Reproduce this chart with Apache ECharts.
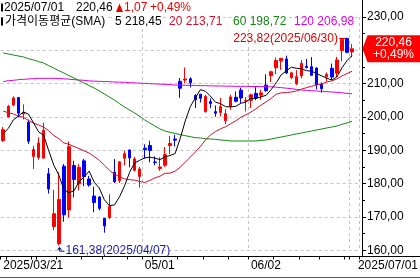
<!DOCTYPE html>
<html><head><meta charset="utf-8">
<script src="https://cdn.jsdelivr.net/npm/echarts@6/dist/echarts.min.js"></script>
<style>html,body{margin:0;padding:0;background:#fff;overflow:hidden}#c{width:420px;height:279px}</style>
</head><body><div id="c"></div>
<script>
// ---------- data ----------
const dates = [
'2025/03/21','2025/03/24','2025/03/25','2025/03/26','2025/03/27','2025/03/28','2025/03/31',
'2025/04/01','2025/04/02','2025/04/03','2025/04/04','2025/04/07','2025/04/08','2025/04/09','2025/04/10','2025/04/11',
'2025/04/14','2025/04/15','2025/04/16','2025/04/17','2025/04/21','2025/04/22','2025/04/23','2025/04/24','2025/04/25',
'2025/04/28','2025/04/29','2025/04/30',
'2025/05/01','2025/05/02','2025/05/05','2025/05/06','2025/05/07','2025/05/08','2025/05/09','2025/05/12','2025/05/13',
'2025/05/14','2025/05/15','2025/05/16','2025/05/19','2025/05/20','2025/05/21','2025/05/22','2025/05/23','2025/05/27',
'2025/05/28','2025/05/29','2025/05/30',
'2025/06/02','2025/06/03','2025/06/04','2025/06/05','2025/06/06','2025/06/09','2025/06/10','2025/06/11','2025/06/12',
'2025/06/13','2025/06/16','2025/06/17','2025/06/18','2025/06/20','2025/06/23','2025/06/24','2025/06/25','2025/06/26',
'2025/06/27','2025/06/30','2025/07/01'];
const opens = [192.90,200.00,203.60,205.84,200.89,198.42,188.19,187.86,187.66,183.00,167.15,162.00,185.23,172.12,185.44,179.93,
186.84,181.41,176.29,176.00,169.60,169.85,183.45,180.92,187.62,190.11,183.99,182.17,190.63,191.44,186.51,184.57,185.56,191.43,
193.38,210.71,211.08,211.45,206.45,206.85,201.65,204.63,201.61,201.38,198.90,203.09,205.92,208.03,204.84,204.98,207.11,206.55,
209.55,212.40,214.75,216.78,217.41,211.78,209.96,212.31,215.19,215.09,214.68,209.79,212.14,214.62,213.12,219.92,223.52,219.50];
const closes = [196.21,203.26,205.71,201.13,201.36,192.72,190.26,192.17,196.01,178.41,171.00,175.26,170.66,191.10,181.22,184.87,
182.12,179.59,174.33,172.61,167.32,173.18,180.60,186.54,188.99,187.70,187.39,184.42,190.20,189.98,186.35,185.01,188.71,192.08,
193.06,208.64,211.37,210.25,205.17,205.59,206.16,204.07,201.12,203.10,200.99,206.02,204.72,205.70,205.01,206.65,205.71,207.23,
207.91,213.57,216.98,217.61,213.20,213.24,212.10,216.10,214.82,212.52,209.69,208.47,212.77,211.99,217.12,223.30,219.39,220.46];
const lows = [192.52,199.95,203.22,199.93,199.28,191.88,184.40,187.20,187.66,177.00,166.00,161.38,168.57,169.93,175.85,178.00,
179.23,179.10,171.41,172.00,165.29,169.35,180.19,180.18,185.49,184.89,183.68,178.85,187.50,186.40,185.53,183.85,185.01,188.82,
191.16,205.75,210.10,208.85,202.67,204.37,201.26,202.65,200.06,200.16,197.85,202.19,204.41,204.23,201.70,202.68,205.03,205.18,
207.56,210.50,212.88,214.15,212.89,211.33,209.62,211.60,214.56,212.34,208.27,207.31,210.63,211.11,212.01,216.74,219.12,217.93];
const highs = [196.99,203.64,206.21,206.01,203.79,199.26,191.33,193.93,198.34,184.70,178.14,183.41,185.90,192.65,186.87,185.86,
187.44,182.35,179.10,176.21,169.60,176.78,187.38,186.74,189.94,190.22,188.02,185.05,191.81,192.88,188.18,187.93,190.99,194.33,
194.69,211.66,214.84,211.93,206.88,206.85,206.62,205.59,203.46,205.76,202.37,206.69,207.66,208.81,205.99,207.00,208.95,208.18,
212.81,213.87,217.85,217.69,218.40,213.58,214.05,217.06,217.41,217.96,214.89,210.39,213.34,216.03,218.04,223.30,223.82,221.88];
const ma5 = [195.05,196.56,199.13,200.25,201.53,200.84,198.24,195.53,194.50,189.91,185.57,182.57,178.27,177.29,177.85,180.62,
181.99,183.78,180.43,178.70,175.19,173.41,173.61,176.05,179.33,183.40,186.24,187.01,187.74,187.94,187.67,187.19,188.05,188.43,
189.04,193.50,198.77,203.08,205.70,208.20,207.71,206.25,204.42,204.01,203.09,203.06,203.19,204.11,204.49,205.62,205.56,206.06,
206.50,208.21,210.28,212.66,213.85,214.92,214.63,214.45,213.89,213.76,213.05,212.32,211.65,211.09,212.01,214.73,216.91,218.45];
const ma20 = [201.76,201.28,200.93,200.27,199.90,198.92,198.18,197.60,196.98,195.87,194.46,193.49,192.20,191.81,191.17,190.52,
189.84,189.18,188.12,187.00,185.56,184.05,182.80,182.07,181.45,181.20,181.05,180.67,180.38,180.95,181.72,182.21,183.11,183.16,
183.75,184.94,186.40,187.94,189.48,191.13,193.07,194.61,195.64,196.47,197.07,197.98,198.85,199.91,200.66,201.49,202.46,203.57,
204.53,205.60,206.80,207.25,207.34,207.49,207.83,208.36,208.79,209.22,209.64,209.91,210.50,210.80,211.42,212.30,213.02,213.71];
const ma60 = [219.2,218.9,218.6,218.3,218.0,217.5,217.1,216.6,216.2,215.4,214.7,213.9,213.2,212.4,211.7,210.9,
210.2,209.4,208.7,207.8,206.9,206.0,205.1,204.0,203.0,202.1,201.2,200.2,199.1,198.2,197.3,196.4,195.8,195.4,
195.1,194.7,194.4,194.1,193.8,193.7,193.5,193.4,193.3,193.1,193.0,192.8,192.8,192.8,192.8,192.8,192.8,193.0,
193.1,193.4,193.7,194.0,194.3,194.6,194.9,195.2,195.5,195.8,196.1,196.4,196.7,197.0,197.3,197.8,198.2,198.72];
const ma120 = [210.6,210.9,211.0,211.2,211.3,211.4,211.5,211.6,211.6,211.6,211.6,211.55,211.45,211.35,211.2,211.1,
211.0,210.85,210.75,210.7,210.65,210.6,210.5,210.45,210.4,210.3,210.25,210.15,210.1,210.0,209.95,209.85,209.8,209.7,
209.6,209.55,209.5,209.5,209.45,209.4,209.4,209.35,209.3,209.3,209.25,209.25,209.2,209.2,209.2,209.15,209.15,209.1,
209.1,209.05,208.95,208.8,208.65,208.5,208.3,208.1,208.0,207.9,207.8,207.7,207.6,207.5,207.4,207.25,207.1,206.98];
const maPeriods = ['5','20','60','120'];
const titleText = '가격이동평균(SMA)';
const yMin = 160, yMax = 230, yStep = 10;
const xLabelDates = ['2025/03/21','2025/05/01','2025/06/02'];
const xLabelTexts = ['2025/03/21','05/01','06/02'];
const gridLineDates = ['2025/05/01','2025/06/02','2025/07/01'];
const cornerLabel = '2025/07/01';

// ---------- chart ----------
const FONT = "'Liberation Sans','Noto Sans CJK KR',sans-serif";
const fmt = v => v.toFixed(2).replace('.', ',');
const n = dates.length;
const cats = dates.concat(['']);
const wd = dates.map(d => { const p = d.split('/').map(Number); return new Date(p[0], p[1]-1, p[2]).getDay(); });
const isTick = i => i < n && (i === 0 || wd[i] < wd[i-1] || dates[i].slice(5,7) !== dates[i-1].slice(5,7));

const C_UP = '#ff0000', C_DN = '#0000ff';
const C5 = '#000000', C20 = '#d01030', C60 = '#118811', C120 = '#dd00dd';

const chart = echarts.init(document.getElementById('c'), null, {renderer: 'canvas', width: 420, height: 279});
const lineS = (name, data, color) => ({
  name, type: 'line', data, symbol: 'none', smooth: false, z: 3,
  lineStyle: {color, width: 1}, itemStyle: {color}, emphasis: {disabled: true}, silent: true
});
chart.setOption({
  animation: false,
  backgroundColor: '#ffffff',
  grid: {left: 0.7, top: 17, width: 358.9, height: 233.33, containLabel: false, outerBoundsMode: 'none'},
  xAxis: {
    type: 'category', data: cats, boundaryGap: true, offset: 6.2,
    axisLine: {show: false},
    axisTick: {show: true, interval: (i) => isTick(i), length: 3, alignWithLabel: false, lineStyle: {color: '#000', width: 1}},
    axisLabel: {
      show: true, interval: (i, v) => xLabelDates.includes(v),
      formatter: (v) => { const k = xLabelDates.indexOf(v); return k >= 0 ? xLabelTexts[k] : ''; },
      align: 'left', margin: 3, color: '#000', fontSize: 12, fontFamily: FONT, hideOverlap: false
    },
    splitLine: {show: true, interval: (i, v) => gridLineDates.includes(v), lineStyle: {color: '#c4c4c4', type: [3, 3], width: 1}}
  },
  yAxis: {
    type: 'value', position: 'right', min: yMin, max: yMax, interval: yStep, offset: 2.4, scale: true,
    axisLine: {show: false},
    axisTick: {show: true, inside: false, length: 4, lineStyle: {color: '#000', width: 1}},
    minorTick: {show: true, splitNumber: 2, length: 3, lineStyle: {color: '#000', width: 1}},
    axisLabel: {show: true, margin: 5, formatter: v => fmt(v), color: '#000', fontSize: 12, fontFamily: FONT},
    splitLine: {show: true, lineStyle: {color: '#c4c4c4', type: [3, 3], width: 1}}
  },
  series: [
    {
      type: 'candlestick', z: 2, barWidth: 3, silent: true,
      data: dates.map((d, i) => [opens[i], closes[i], lows[i], highs[i]]),
      itemStyle: {color: C_UP, color0: C_DN, borderColor: C_UP, borderColor0: C_DN, borderWidth: 1},
      emphasis: {disabled: true}
    },
    lineS('MA120', ma120, C120),
    lineS('MA60', ma60, C60),
    lineS('MA20', ma20, C20),
    lineS('MA5', ma5, C5)
  ]
});

// ---------- overlays positioned through the chart's scales ----------
const px = (i, v) => chart.convertToPixel({xAxisIndex: 0, yAxisIndex: 0}, [i, v]);
const last = n - 1;
const chg = closes[last] - closes[last - 1];
const pct = chg / closes[last - 1] * 100;
let hiI = 0, loI = 0;
for (let i = 0; i < n; i++) { if (highs[i] > highs[hiI]) hiI = i; if (lows[i] < lows[loI]) loI = i; }
const hiP = px(hiI, highs[hiI]);
const loP = px(loI, lows[loI]);
const lastP = px(last, closes[last]);

const txt = (x, y, text, color, extra) => Object.assign({
  type: 'text', x, y, z: 50,
  style: Object.assign({text, fill: color, font: '12px ' + FONT, textVerticalAlign: 'middle', textAlign: 'left'}, extra || {})
});
const ln = (x1, y1, x2, y2, color) => ({type: 'line', z: 40, shape: {x1, y1, x2, y2}, style: {stroke: color, lineWidth: 1}});

const g = [];
// frame lines
g.push(ln(362.5, 0, 362.5, 257, '#000'));
g.push(ln(0, 256.5, 420, 256.5, '#000'));
g.push(ln(0, 277.5, 420, 277.5, '#555'));
// row 1
g.push({type: 'rect', z: 50, shape: {x: 1, y: 3.5, width: 2, height: 8}, style: {fill: '#000'}});
g.push(txt(4, 7.5, dates[last], '#000'));
g.push(txt(76, 7.5, fmt(closes[last]), '#000'));
g.push({type: 'polygon', z: 50, shape: {points: [[116, 12], [123, 12], [119.5, 3.5]]}, style: {fill: chg >= 0 ? '#ee0000' : '#0000ee'}});
g.push(txt(124, 7.5, fmt(Math.abs(chg)), '#ee0000'));
g.push(txt(150, 7.5, (pct >= 0 ? '+' : '-') + fmt(Math.abs(pct)) + '%', '#ee0000'));
// row 2
const bg = {backgroundColor: '#fff', padding: [1, 1]};
g.push({type: 'rect', z: 50, shape: {x: 1, y: 17.5, width: 2, height: 8}, style: {fill: '#000'}});
g.push(txt(4, 21.5, titleText, '#000', bg));
g.push(txt(114, 21.5, maPeriods[0] + ' ' + fmt(ma5[last]), C5, bg));
g.push(txt(168, 21.5, maPeriods[1] + ' ' + fmt(ma20[last]), C20, bg));
g.push(txt(232, 21.5, maPeriods[2] + ' ' + fmt(ma60[last]), C60, bg));
g.push(txt(293, 21.5, maPeriods[3] + ' ' + fmt(ma120[last]), C120, bg));
// high annotation
const hiTxtEnd = hiP[0] - 9;
g.push(txt(hiTxtEnd, hiP[1] + 1.5, fmt(highs[hiI]) + '(' + dates[hiI] + ')', '#e00000', {textAlign: 'right'}));
g.push(ln(hiTxtEnd + 1, Math.round(hiP[1]) + 0.5, hiP[0] - 1, Math.round(hiP[1]) + 0.5, '#e00000'));
// low annotation
const lx = Math.round(loP[0]) + 0.5, ly = loP[1];
g.push({type: 'polygon', z: 50, shape: {points: [[lx, ly + 1], [lx - 2.5, ly + 4], [lx + 2.5, ly + 4]]}, style: {fill: '#1a1ab0'}});
g.push({type: 'polyline', z: 50, shape: {points: [[lx, ly + 3.5], [lx, ly + 5.5], [lx + 5, ly + 5.5]]}, style: {stroke: '#1a1ab0', lineWidth: 1, fill: null}});
g.push(txt(lx + 6, ly + 4.5, fmt(lows[loI]) + '(' + dates[loI] + ')', '#1a1ab0'));
// price tag
const ty = lastP[1];
g.push({type: 'polygon', z: 60, shape: {points: [[362.5, ty], [367.5, ty - 13.5], [420, ty - 13.5], [420, ty + 13.5], [367.5, ty + 13.5]]}, style: {fill: '#ff0000'}});
g.push(Object.assign(txt(393.5, ty - 6, fmt(closes[last]), '#fff', {textAlign: 'center'}), {z: 61}));
g.push(Object.assign(txt(393.5, ty + 6, (pct >= 0 ? '+' : '-') + fmt(Math.abs(pct)) + '%', '#fff', {textAlign: 'center'}), {z: 61}));
// corner date label
g.push(txt(418, 266, cornerLabel, '#000', {textAlign: 'right'}));

chart.setOption({graphic: {elements: g}});
</script>
</body></html>
